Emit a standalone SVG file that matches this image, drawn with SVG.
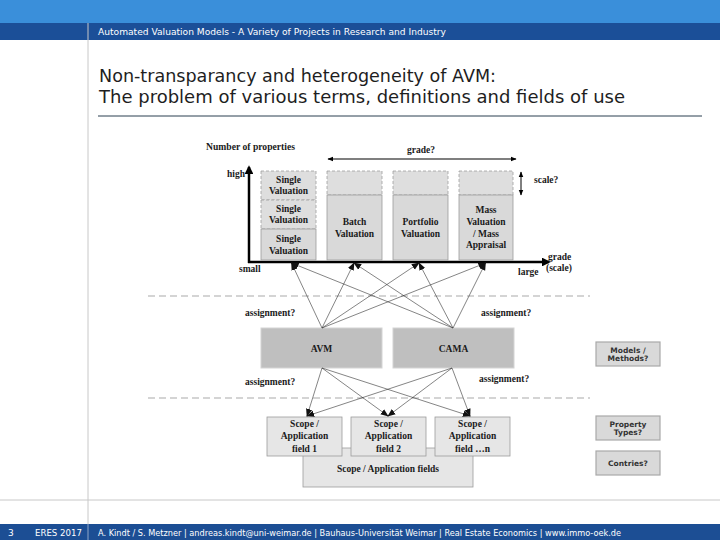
<svg xmlns="http://www.w3.org/2000/svg" width="720" height="540" viewBox="0 0 720 540">
<defs>
<style>
.hdr{font-family:"DejaVu Sans",Verdana,sans-serif;fill:#fff}
.ttl{font-family:"DejaVu Sans",Verdana,sans-serif;font-size:17px;fill:#1e1e1e}
.ser{font-family:"Liberation Serif","Times New Roman",serif;font-weight:bold;font-size:9.5px;fill:#1a1a1a}
.ctr{text-anchor:middle}
.col{fill:#d9d9d9;stroke:#9c9c9c;stroke-width:0.8}
.coltop{fill:#dedede;stroke:#a0a0a0;stroke-width:0.8;stroke-dasharray:3 2}
.meth{fill:#bfbfbf;stroke:#d4d4d4;stroke-width:1}
.scope{fill:#e6e6e6;stroke:#9c9c9c;stroke-width:0.8}
.side{fill:#d9d9d9;stroke:#a9a9a9;stroke-width:1.2}
.sidet{font-family:"DejaVu Sans",Verdana,sans-serif;font-weight:bold;font-size:7.5px;fill:#333;text-anchor:middle}
.cn{stroke:#333;stroke-width:0.6;fill:none;marker-end:url(#ah)}
.dash{stroke:#aaa;stroke-width:1.2;stroke-dasharray:7 4;fill:none}
</style>
<marker id="ah" viewBox="0 0 10 10" refX="9" refY="5" markerWidth="8" markerHeight="8" orient="auto" markerUnits="userSpaceOnUse">
<path d="M0,1 L10,5 L0,9 z" fill="#111"/>
</marker>
<marker id="ax" viewBox="0 0 10 10" refX="8" refY="5" markerWidth="3.5" markerHeight="3.5" orient="auto">
<path d="M0,0 L10,5 L0,10 z" fill="#000"/>
</marker>
<marker id="dh" viewBox="0 0 10 10" refX="9" refY="5" markerWidth="6" markerHeight="6" orient="auto-start-reverse" markerUnits="userSpaceOnUse">
<path d="M0,1 L10,5 L0,9 z" fill="#000"/>
</marker>
</defs>

<!-- page frame -->
<rect x="0" y="0" width="720" height="540" fill="#fff"/>
<rect x="0" y="0" width="720" height="23" fill="#3a8fda"/>
<rect x="0" y="23" width="720" height="17" fill="#1b4f98"/>
<line x1="88" y1="23" x2="88" y2="540" stroke="#c8c8c8" stroke-width="1"/>
<line x1="0" y1="500" x2="720" y2="500" stroke="#c8c8c8" stroke-width="1"/>
<rect x="0" y="524" width="720" height="16" fill="#1c4e94"/>
<line x1="88" y1="524" x2="88" y2="540" stroke="#8fa6c8" stroke-width="1"/>
<text class="hdr" x="98" y="35" font-size="9" textLength="348" lengthAdjust="spacingAndGlyphs">Automated Valuation Models - A Variety of Projects in Research and Industry</text>
<text class="ttl" x="99" y="82" textLength="397" lengthAdjust="spacingAndGlyphs">Non-transparancy and heterogeneity of AVM:</text>
<text class="ttl" x="99" y="103" textLength="526" lengthAdjust="spacingAndGlyphs">The problem of various terms, definitions and fields of use</text>
<line x1="98" y1="116" x2="702" y2="116" stroke="#2b3f50" stroke-width="1"/>
<text class="hdr" x="8" y="536" font-size="9">3</text>
<text class="hdr" x="35" y="536" font-size="8.5" textLength="47" lengthAdjust="spacingAndGlyphs">ERES 2017</text>
<text class="hdr" x="98" y="536" font-size="8.5" textLength="523" lengthAdjust="spacingAndGlyphs">A. Kindt / S. Metzner | andreas.kindt@uni-weimar.de | Bauhaus-Universität Weimar | Real Estate Economics | www.immo-oek.de</text>

<!-- separators -->
<line class="dash" x1="148" y1="296" x2="590" y2="296"/>
<line class="dash" x1="148" y1="398" x2="590" y2="398"/>

<!-- axes and labels -->
<g id="axes">
<text class="ser" x="206" y="150" textLength="89" lengthAdjust="spacingAndGlyphs">Number of properties</text>
<line x1="328" y1="159" x2="516" y2="159" stroke="#000" stroke-width="1.2" marker-start="url(#dh)" marker-end="url(#dh)"/>
<text class="ser ctr" x="421" y="153">grade?</text>
<line x1="521" y1="172" x2="521" y2="195" stroke="#000" stroke-width="1" marker-start="url(#dh)" marker-end="url(#dh)"/>
<text class="ser" x="534" y="183">scale?</text>
<line x1="249" y1="263" x2="249" y2="167" stroke="#000" stroke-width="2.5" marker-end="url(#ax)"/>
<line x1="248" y1="262" x2="549" y2="262" stroke="#000" stroke-width="2.5" marker-end="url(#ax)"/>
<text class="ser" x="227" y="177">high</text>
<text class="ser" x="239" y="272">small</text>
<text class="ser" x="518" y="275">large</text>
<text class="ser" x="548" y="260">grade</text>
<text class="ser" x="546" y="271">(scale)</text>
</g>

<g id="single-valuation">
<rect class="coltop" x="261" y="171" width="55" height="29"/>
<rect class="coltop" x="261" y="200" width="55" height="29"/>
<rect class="col" x="261" y="229" width="55" height="31"/>
<text class="ser ctr" x="288.5" y="183">Single</text>
<text class="ser ctr" x="288.5" y="194">Valuation</text>
<text class="ser ctr" x="288.5" y="212">Single</text>
<text class="ser ctr" x="288.5" y="223">Valuation</text>
<text class="ser ctr" x="288.5" y="242">Single</text>
<text class="ser ctr" x="288.5" y="254">Valuation</text>
</g>
<g id="batch-valuation">
<rect class="coltop" x="327" y="171" width="55" height="24"/>
<rect class="col" x="327" y="195" width="55" height="65"/>
<text class="ser ctr" x="354.5" y="225">Batch</text>
<text class="ser ctr" x="354.5" y="237">Valuation</text>
</g>
<g id="portfolio-valuation">
<rect class="coltop" x="393" y="171" width="55" height="24"/>
<rect class="col" x="393" y="195" width="55" height="65"/>
<text class="ser ctr" x="420.5" y="225">Portfolio</text>
<text class="ser ctr" x="420.5" y="237">Valuation</text>
</g>
<g id="mass-valuation">
<rect class="coltop" x="459" y="171" width="54" height="24"/>
<rect class="col" x="459" y="195" width="54" height="65"/>
<text class="ser ctr" x="486" y="213">Mass</text>
<text class="ser ctr" x="486" y="225">Valuation</text>
<text class="ser ctr" x="486" y="237">/ Mass</text>
<text class="ser ctr" x="486" y="248">Appraisal</text>
</g>

<g id="avm">
<rect class="meth" x="261" y="328" width="121" height="40"/>
<text class="ser ctr" x="321.5" y="352" font-size="10">AVM</text>
</g>
<g id="cama">
<rect class="meth" x="393" y="328" width="121" height="40"/>
<text class="ser ctr" x="453.5" y="352" font-size="10">CAMA</text>
</g>

<g id="assignment-labels">
<text class="ser" x="245" y="316">assignment?</text>
<text class="ser" x="481" y="316">assignment?</text>
<text class="ser" x="245" y="385">assignment?</text>
<text class="ser" x="479" y="382">assignment?</text>
</g>

<g id="scope-fields">
<rect class="scope" x="303" y="448" width="170" height="39"/>
<text class="ser ctr" x="388" y="472">Scope / Application fields</text>
</g>
<g id="scope-1">
<rect class="scope" x="267" y="417" width="75" height="39"/>
<text class="ser ctr" x="304.5" y="427">Scope /</text>
<text class="ser ctr" x="304.5" y="439">Application</text>
<text class="ser ctr" x="304.5" y="452">field 1</text>
</g>
<g id="scope-2">
<rect class="scope" x="351" y="417" width="75" height="39"/>
<text class="ser ctr" x="388.5" y="427">Scope /</text>
<text class="ser ctr" x="388.5" y="439">Application</text>
<text class="ser ctr" x="388.5" y="452">field 2</text>
</g>
<g id="scope-n">
<rect class="scope" x="435" y="417" width="75" height="39"/>
<text class="ser ctr" x="472.5" y="427">Scope /</text>
<text class="ser ctr" x="472.5" y="439">Application</text>
<text class="ser ctr" x="472.5" y="452">field …n</text>
</g>

<g id="models-methods">
<rect class="side" x="596" y="342" width="64" height="24"/>
<text class="sidet" x="628" y="352.5">Models /</text>
<text class="sidet" x="628" y="361">Methods?</text>
</g>
<g id="property-types">
<rect class="side" x="596" y="416" width="64" height="24"/>
<text class="sidet" x="628" y="426.5">Property</text>
<text class="sidet" x="628" y="435">Types?</text>
</g>
<g id="countries">
<rect class="side" x="596" y="451" width="64" height="24"/>
<text class="sidet" x="628" y="466">Contries?</text>
</g>

<g id="connectors">
<line class="cn" x1="322" y1="328" x2="291.5" y2="263"/>
<line class="cn" x1="322" y1="328" x2="354" y2="263"/>
<line class="cn" x1="322" y1="328" x2="419" y2="263"/>
<line class="cn" x1="322" y1="328" x2="485.5" y2="263"/>
<line class="cn" x1="453" y1="328" x2="291.5" y2="263"/>
<line class="cn" x1="453" y1="328" x2="354" y2="263"/>
<line class="cn" x1="453" y1="328" x2="419" y2="263"/>
<line class="cn" x1="453" y1="328" x2="485.5" y2="263"/>
<line class="cn" x1="322" y1="368" x2="307" y2="416"/>
<line class="cn" x1="322" y1="368" x2="388" y2="416"/>
<line class="cn" x1="322" y1="368" x2="470" y2="416"/>
<line class="cn" x1="452" y1="368" x2="307" y2="416"/>
<line class="cn" x1="452" y1="368" x2="388" y2="416"/>
<line class="cn" x1="452" y1="368" x2="470" y2="416"/>
</g>
</svg>
